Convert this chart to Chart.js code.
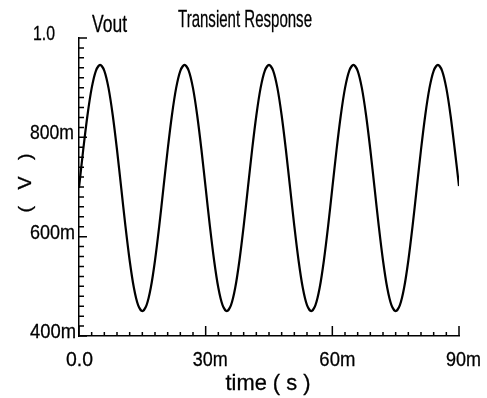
<!DOCTYPE html>
<html>
<head>
<meta charset="utf-8">
<script src="https://cdn.jsdelivr.net/npm/chart.js@4.4.1/dist/chart.umd.min.js"></script>
<style>
  body { margin: 0; background: #fff; }
  #wrap { width: 487px; height: 398px; }
</style>
</head>
<body>
<div id="wrap"><canvas id="myChart" width="487" height="398"></canvas></div>
<script>
// time in ms, Vout in mV
const times = [0,1,2,3,4,5,6,7,8,9,10,11,12,13,14,15,16,17,18,19,
  20,21,22,23,24,25,26,27,28,29,30,31,32,33,34,35,36,37,38,39,
  40,41,42,43,44,45,46,47,48,49,50,51,52,53,54,55,56,57,58,59,
  60,61,62,63,64,65,66,67,68,69,70,71,72,73,74,75,76,77,78,79,
  80,81,82,83,84,85,86,87,88,89,90];
const vout = [698,775,844,899,934,946,934,899,844,775,698,621,552,497,462,450,462,497,552,621,
  698,775,844,899,934,946,934,899,844,775,698,621,552,497,462,450,462,497,552,621,
  698,775,844,899,934,946,934,899,844,775,698,621,552,497,462,450,462,497,552,621,
  698,775,844,899,934,946,934,899,844,775,698,621,552,497,462,450,462,497,552,621,
  698,775,844,899,934,946,934,899,844,775,702];

const xTicks = [0, 30, 60, 90];
const xTickLabels = ['0.0', '30m', '60m', '90m'];
const yTicks = [400, 600, 800, 1000];
const yTickLabels = ['400m', '600m', '800m', '1.0'];

const FONT = "'Liberation Sans', Arial, sans-serif";

const ctx = document.getElementById('myChart');

// draw text squeezed/stretched to a given width (old plotter font is narrow)
function fitText(c, text, x, y, w, align) {
  const nat = c.measureText(text).width;
  let x0 = x;
  if (align === 'center') x0 = x - w / 2;
  if (align === 'right') x0 = x - w;
  c.save();
  c.translate(x0, y);
  c.scale(w / nat, 1);
  c.textAlign = 'left';
  c.fillText(text, 0, 0);
  c.lineWidth = 0.3;
  c.strokeText(text, 0, 0);
  c.restore();
}

const decor = {
  id: 'decor',
  afterDraw(chart) {
    const c = chart.ctx;
    const xs = chart.scales.x, ys = chart.scales.y;
    const a = chart.chartArea;
    c.save();
    c.strokeStyle = '#000';
    c.lineWidth = 1.5;
    c.beginPath();
    for (let v = 400; v <= 1000; v += 20) {
      const py = ys.getPixelForValue(v);
      const len = yTicks.includes(v) ? 8 : 5;
      c.moveTo(a.left, py);
      c.lineTo(a.left + len, py);
    }
    for (let t = 0; t <= 90; t += 3) {
      const px = xs.getPixelForValue(t);
      const len = xTicks.includes(t) ? 10 : 4;
      c.moveTo(px, a.bottom);
      c.lineTo(px, a.bottom - len);
    }
    c.stroke();

    c.fillStyle = '#000';
    c.textBaseline = 'alphabetic';

    // tick labels
    c.font = '21px ' + FONT;
    const yW = { '400m': 46, '600m': 45, '800m': 44, '1.0': 22 };
    yTicks.forEach((v, i) => {
      const lx = yTickLabels[i] === '1.0' ? 33 : 30;
      fitText(c, yTickLabels[i], lx, ys.getPixelForValue(v) + 2, yW[yTickLabels[i]], 'left');
    });
    const xW = { '0.0': 27, '30m': 35, '60m': 36, '90m': 35 };
    xTicks.forEach((t, i) => {
      fitText(c, xTickLabels[i], xs.getPixelForValue(t) - 13, a.bottom + 30, xW[xTickLabels[i]], 'left');
    });

    // titles
    c.font = '24px ' + FONT;
    fitText(c, 'Vout', 92, 32, 35, 'left');
    fitText(c, 'Transient Response', 178, 27, 134, 'left');
    c.font = '22px ' + FONT;
    fitText(c, 'time ( s )', (a.left + a.right) / 2 - 1, 390, 85, 'center');

    c.save();
    c.translate(31, 183);
    c.rotate(-Math.PI / 2);
    c.font = '18px ' + FONT;
    fitText(c, '(   V   )', 0, 0, 59, 'center');
    c.restore();

    c.restore();
  }
};

new Chart(ctx, {
  type: 'line',
  data: {
    datasets: [{
      label: 'Vout',
      data: times.map((t, i) => ({ x: t, y: vout[i] })),
      borderColor: '#000',
      borderWidth: 2.2,
      pointRadius: 0,
      tension: 0.3,
      fill: false
    }]
  },
  options: {
    responsive: false,
    animation: false,
    layout: { padding: { top: 38, right: 28, left: 0, bottom: 0 } },
    plugins: {
      legend: { display: false },
      tooltip: { enabled: false }
    },
    scales: {
      x: {
        type: 'linear',
        min: 0,
        max: 90,
        afterFit: s => { s.height = 62; },
        afterBuildTicks: s => { s.ticks = xTicks.map(v => ({ value: v })); },
        ticks: { display: false },
        grid: { display: false, drawTicks: false },
        border: { color: '#000', width: 1.5 }
      },
      y: {
        min: 400,
        max: 1000,
        afterFit: s => { s.width = 79; },
        afterBuildTicks: s => { s.ticks = yTicks.map(v => ({ value: v })); },
        ticks: { display: false },
        grid: { display: false, drawTicks: false },
        border: { color: '#000', width: 1.5 }
      }
    }
  },
  plugins: [decor]
});
</script>
</body>
</html>
